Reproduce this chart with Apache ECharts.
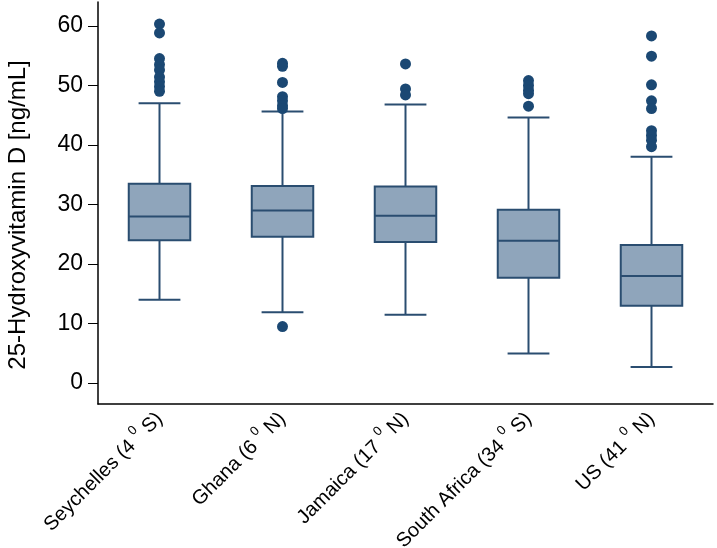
<!DOCTYPE html>
<html>
<head>
<meta charset="utf-8">
<script src="https://cdn.jsdelivr.net/npm/echarts@6/dist/echarts.min.js"></script>
<style>
  html, body { margin: 0; padding: 0; background: #fff; }
  #chart { width: 717px; height: 548px; }
</style>
</head>
<body>
<div id="chart"></div>
<script>
// categories (latitude superscript written with ⁰)
const categories = ['Seychelles (4⁰ S)', 'Ghana (6⁰ N)', 'Jamaica (17⁰ N)', 'South Africa (34⁰ S)', 'US (41⁰ N)'];

// box stats: [low whisker, Q1, median, Q3, high whisker]
const boxStats = [
    [14.0, 24.0, 28.0, 33.5, 47.0],
    [11.9, 24.6, 29.0, 33.1, 45.6],
    [11.5, 23.7, 28.1, 33.0, 46.8],
    [5.0, 17.7, 23.9, 29.1, 44.6],
    [2.7, 13.0, 18.0, 23.2, 38.0]
];

// outliers per category
const outliers = [
    [60.3, 58.8, 54.5, 53.5, 52.6, 51.4, 50.6, 49.8, 49.0],
    [53.7, 53.2, 50.5, 48.1, 47.4, 46.6, 46.1, 9.5],
    [53.6, 49.4, 48.4],
    [50.8, 50.0, 49.2, 48.6, 46.5],
    [58.3, 54.9, 50.1, 47.4, 46.1, 42.4, 41.6, 40.8, 39.7]
];

const yTicks = [0, 10, 20, 30, 40, 50, 60];

const boxFill = '#8fa5bb';
const lineColor = '#2a4d70';
const dotColor = '#1b4873';

let chart = echarts.init(document.getElementById('chart'));

let boxData = boxStats.map((s, i) => [i].concat(s));
let outlierData = [];
outliers.forEach((arr, i) => {
    arr.forEach(v => outlierData.push([i, v]));
});

function renderBox(params, api) {
    let idx = api.value(0);
    let low = api.coord([idx, api.value(1)]);
    let q1 = api.coord([idx, api.value(2)]);
    let med = api.coord([idx, api.value(3)]);
    let q3 = api.coord([idx, api.value(4)]);
    let high = api.coord([idx, api.value(5)]);
    let band = api.size([1, 0])[0];
    let halfBox = band * 0.25;
    let halfCap = band * 0.17;
    let x = low[0];
    let lineStyle = { stroke: lineColor, lineWidth: 2, fill: null };
    return {
        type: 'group',
        children: [
            { type: 'line', shape: { x1: x, y1: high[1], x2: x, y2: q3[1] }, style: lineStyle },
            { type: 'line', shape: { x1: x, y1: q1[1], x2: x, y2: low[1] }, style: lineStyle },
            { type: 'line', shape: { x1: x - halfCap, y1: high[1], x2: x + halfCap, y2: high[1] }, style: lineStyle },
            { type: 'line', shape: { x1: x - halfCap, y1: low[1], x2: x + halfCap, y2: low[1] }, style: lineStyle },
            {
                type: 'rect',
                shape: { x: x - halfBox, y: q3[1], width: halfBox * 2, height: q1[1] - q3[1] },
                style: { fill: boxFill, stroke: lineColor, lineWidth: 2 }
            },
            { type: 'line', shape: { x1: x - halfBox, y1: med[1], x2: x + halfBox, y2: med[1] }, style: lineStyle }
        ]
    };
}

const option = {
    animation: false,
    grid: {
        top: 2,
        left: 98,
        right: 4,
        bottom: 144,
        containLabel: false,
        outerBoundsMode: 'none'
    },
    xAxis: {
        type: 'category',
        data: categories,
        axisLine: { onZero: false, lineStyle: { color: '#000', width: 1.5 } },
        axisTick: { show: false },
        axisLabel: {
            rotate: 45,
            interval: 0,
            margin: 12,
            color: '#000',
            fontFamily: 'Liberation Sans',
            fontSize: 20,
            lineHeight: 30,
            formatter: function (v) {
                return v.replace('⁰', ' {sup|0}');
            },
            rich: {
                sup: { fontSize: 13, lineHeight: 13, verticalAlign: 'top', fontFamily: 'Liberation Sans', color: '#000' }
            }
        }
    },
    yAxis: {
        type: 'value',
        min: -3.5,
        max: 64,
        name: '25-Hydroxyvitamin D [ng/mL]',
        nameLocation: 'middle',
        nameGap: 68,
        nameTextStyle: { color: '#000', fontSize: 24, fontFamily: 'Liberation Sans', padding: [0, 24, 0, 0] },
        splitLine: { show: false },
        axisLine: { show: true, lineStyle: { color: '#000', width: 1.5 } },
        axisTick: {
            show: true,
            length: 10,
            customValues: yTicks,
            lineStyle: { color: '#000' }
        },
        axisLabel: {
            customValues: yTicks,
            margin: 15,
            color: '#000',
            fontSize: 23,
            fontFamily: 'Liberation Sans'
        }
    },
    series: [
        {
            type: 'custom',
            renderItem: renderBox,
            encode: { x: 0, y: [1, 2, 3, 4, 5] },
            data: boxData,
            z: 2
        },
        {
            type: 'scatter',
            symbolSize: 11,
            itemStyle: { color: dotColor, opacity: 1 },
            data: outlierData,
            z: 3
        }
    ]
};

chart.setOption(option);

window.addEventListener('resize', function () {
    chart.resize();
});
</script>
</body>
</html>
